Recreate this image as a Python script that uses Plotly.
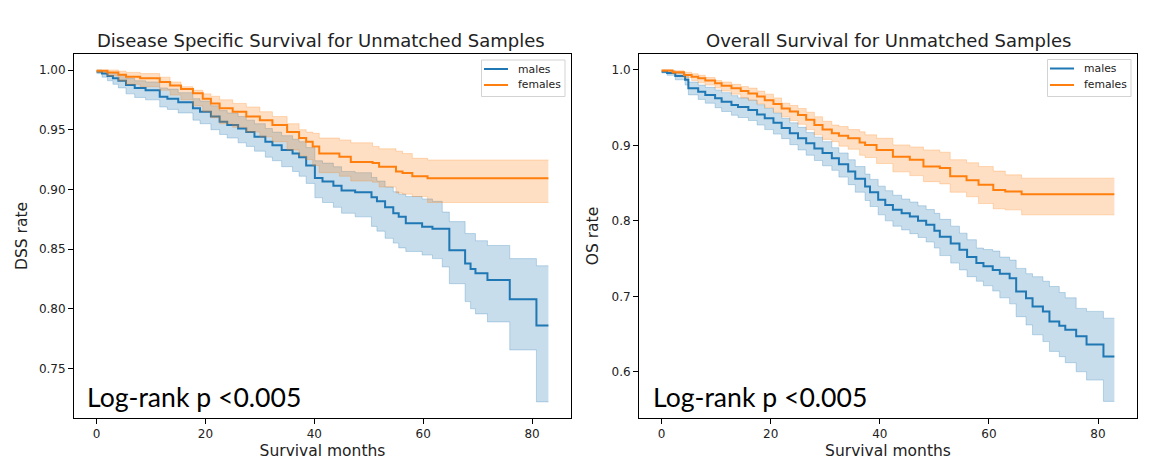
import plotly.graph_objects as go

# ---------------- Disease specific survival (left panel) ----------------
dss_m_t = [0, 1, 2, 3, 4, 5.4, 7, 9, 11.6, 13, 15, 17.7, 19, 21, 22.6, 24, 26, 27.5, 29, 31,
           32.3, 34, 36, 37.2, 38.5, 40.1, 41.5, 43.5, 45, 47.5, 50.5, 51.5, 53, 54.5, 55.5,
           56.8, 59.8, 61.7, 63.5, 64.8, 67.7, 68.7, 69.6, 71.8, 75.9, 80.8, 83]
dss_m_s = [0.9986, 0.997, 0.995, 0.993, 0.991, 0.9874, 0.985, 0.983, 0.9776, 0.976, 0.973, 0.968,
           0.965, 0.961, 0.9567, 0.954, 0.951, 0.948, 0.944, 0.940, 0.937, 0.933, 0.930, 0.927,
           0.920, 0.9095, 0.9065, 0.903, 0.899, 0.8975, 0.8935, 0.890, 0.885, 0.880, 0.877, 0.8716,
           0.8688, 0.867, 0.867, 0.849, 0.838, 0.8334, 0.8297, 0.8241, 0.808, 0.786, 0.786]
dss_m_lo = [0.997, 0.994, 0.991, 0.988, 0.985, 0.980, 0.977, 0.975, 0.969, 0.967, 0.964, 0.958,
            0.955, 0.950, 0.946, 0.943, 0.939, 0.936, 0.932, 0.927, 0.924, 0.919, 0.915, 0.911,
            0.905, 0.893, 0.889, 0.885, 0.880, 0.877, 0.869, 0.865, 0.859, 0.855, 0.851, 0.848,
            0.845, 0.842, 0.835, 0.821, 0.806, 0.800, 0.7957, 0.789, 0.7655, 0.722, 0.722]
dss_m_hi = [1.000, 0.999, 0.998, 0.997, 0.996, 0.993, 0.991, 0.990, 0.985, 0.984, 0.981, 0.976,
            0.974, 0.970, 0.966, 0.964, 0.961, 0.958, 0.955, 0.951, 0.948, 0.945, 0.942, 0.940,
            0.935, 0.924, 0.922, 0.919, 0.915, 0.914, 0.910, 0.907, 0.902, 0.898, 0.896, 0.894,
            0.892, 0.890, 0.881, 0.873, 0.863, 0.863, 0.857, 0.853, 0.842, 0.836, 0.836]

dss_f_t = [0, 2, 4, 5.4, 8, 11.6, 13.5, 15.5, 17.7, 19.5, 21, 22.6, 25, 27.5, 30, 32.3, 35, 37.2,
           38.5, 39.7, 40.9, 44.6, 46.7, 50.7, 51.9, 55, 56.2, 58, 60.8, 83]
dss_f_s = [0.9994, 0.998, 0.996, 0.9944, 0.993, 0.990, 0.987, 0.984, 0.9805, 0.976, 0.972, 0.968,
           0.965, 0.961, 0.958, 0.954, 0.948, 0.943, 0.940, 0.936, 0.930, 0.9274, 0.923, 0.922,
           0.919, 0.915, 0.9137, 0.911, 0.9093, 0.9093]
dss_f_lo = [0.998, 0.995, 0.991, 0.988, 0.986, 0.983, 0.979, 0.975, 0.970, 0.965, 0.960, 0.955,
            0.952, 0.948, 0.944, 0.940, 0.933, 0.928, 0.925, 0.920, 0.914, 0.911, 0.907, 0.906,
            0.902, 0.897, 0.896, 0.894, 0.889, 0.889]
dss_f_hi = [1.000, 1.000, 0.999, 0.998, 0.997, 0.994, 0.990, 0.986, 0.983, 0.980, 0.978, 0.975,
            0.972, 0.969, 0.965, 0.961, 0.955, 0.950, 0.948, 0.947, 0.943, 0.9414, 0.939, 0.936,
            0.934, 0.932, 0.930, 0.926, 0.9246, 0.9246]

# ---------------- Overall survival (right panel) ----------------
os_m_t = [0, 1, 2.5, 4.3, 4.9, 6.7, 8, 9.8, 11, 12.8, 14, 15.9, 17.5, 18.9, 20.5, 22, 23.5, 25,
          26.5, 28, 29.5, 31.2, 32.5, 34.2, 35.5, 37.3, 38.2, 39.7, 41, 42.4, 44, 45.5, 47, 48.5,
          50, 51, 53, 54.6, 56, 57.7, 59, 60.7, 62, 63.8, 65, 66.8, 68, 69.9, 71.1, 72.9, 74, 76,
          77.9, 81, 83]
os_m_s = [0.9978, 0.996, 0.992, 0.987, 0.9757, 0.971, 0.967, 0.9625, 0.958, 0.9536, 0.951, 0.947,
          0.941, 0.936, 0.930, 0.923, 0.916, 0.9095, 0.903, 0.896, 0.890, 0.883, 0.875, 0.8653,
          0.856, 0.8455, 0.838, 0.828, 0.821, 0.8146, 0.810, 0.8057, 0.800, 0.7947, 0.787, 0.779,
          0.770, 0.7616, 0.752, 0.744, 0.740, 0.735, 0.730, 0.724, 0.7064, 0.6976, 0.6865, 0.680,
          0.6666, 0.661, 0.6556, 0.647, 0.636, 0.6203, 0.6203]
os_m_lo = [0.996, 0.993, 0.987, 0.980, 0.967, 0.961, 0.956, 0.950, 0.945, 0.940, 0.937, 0.933,
           0.927, 0.921, 0.915, 0.909, 0.901, 0.894, 0.887, 0.880, 0.873, 0.867, 0.858, 0.848,
           0.838, 0.827, 0.819, 0.808, 0.800, 0.793, 0.788, 0.783, 0.778, 0.772, 0.764, 0.754,
           0.744, 0.735, 0.726, 0.720, 0.714, 0.707, 0.698, 0.690, 0.673, 0.662, 0.649, 0.640,
           0.627, 0.620, 0.612, 0.600, 0.589, 0.5607, 0.5607]
os_m_hi = [0.9995, 0.999, 0.996, 0.993, 0.984, 0.980, 0.977, 0.9735, 0.970, 0.966, 0.963, 0.960,
           0.954, 0.949, 0.943, 0.936, 0.930, 0.924, 0.917, 0.911, 0.905, 0.897, 0.890, 0.881,
           0.872, 0.862, 0.855, 0.846, 0.840, 0.834, 0.829, 0.825, 0.820, 0.815, 0.810, 0.802,
           0.793, 0.7837, 0.775, 0.764, 0.762, 0.760, 0.752, 0.748, 0.737, 0.730, 0.726, 0.720,
           0.713, 0.705, 0.698, 0.684, 0.680, 0.671, 0.671]

os_f_t = [0, 2, 4.1, 5.5, 6.7, 8, 9.8, 11, 12.8, 14.5, 15.9, 17.5, 18.9, 20.5, 22, 23.5, 25, 26.5,
          28, 29.5, 31.2, 32.5, 34.2, 36.3, 37.3, 39.4, 42.4, 45.5, 48, 51, 52.9, 55.9, 58.1, 60.8,
          63, 66, 83]
os_f_s = [0.9993, 0.997, 0.9934, 0.991, 0.989, 0.986, 0.9823, 0.979, 0.9757, 0.972, 0.969, 0.965,
          0.960, 0.955, 0.949, 0.945, 0.9404, 0.934, 0.927, 0.921, 0.916, 0.913, 0.9095, 0.904,
          0.9007, 0.894, 0.885, 0.881, 0.872, 0.870, 0.859, 0.854, 0.848, 0.841, 0.839, 0.8353,
          0.8353]
os_f_lo = [0.998, 0.995, 0.990, 0.986, 0.983, 0.980, 0.976, 0.972, 0.968, 0.963, 0.960, 0.955,
           0.950, 0.944, 0.938, 0.933, 0.928, 0.921, 0.914, 0.908, 0.905, 0.899, 0.895, 0.887,
           0.884, 0.876, 0.865, 0.860, 0.852, 0.849, 0.838, 0.832, 0.823, 0.816, 0.8146, 0.808,
           0.808]
os_f_hi = [1.000, 0.999, 0.997, 0.995, 0.993, 0.990, 0.986, 0.984, 0.981, 0.978, 0.976, 0.972,
           0.968, 0.963, 0.956, 0.953, 0.949, 0.944, 0.938, 0.932, 0.927, 0.925, 0.921, 0.918,
           0.914, 0.9095, 0.9007, 0.898, 0.894, 0.891, 0.881, 0.877, 0.872, 0.866, 0.861, 0.8566,
           0.8566]

x_ticks = [0, 20, 40, 60, 80]
dss_ticks = [0.75, 0.80, 0.85, 0.90, 0.95, 1.00]
os_ticks = [0.6, 0.7, 0.8, 0.9, 1.0]
titles = ["Disease Specific Survival for Unmatched Samples", "Overall Survival for Unmatched Samples"]
y_titles = ["DSS rate", "OS rate"]
x_title = "Survival months"
series_names = ["males", "females"]
pvalue_text = "Log-rank p <0.005"

BLUE = "#1f77b4"
ORANGE = "#ff7f0e"
BLUE_FILL = "rgba(31,119,180,0.25)"
ORANGE_FILL = "rgba(255,127,14,0.25)"
TXT = "#222222"
FONT = "DejaVu Sans"

W, H = 1174, 472
fig = go.Figure()


def add_km(t, s, lo, hi, name, color, fill, xa, ya):
    fig.add_trace(go.Scatter(x=t, y=s, mode="lines", name=name, showlegend=False,
                             line=dict(color=color, width=2, shape="hv"),
                             xaxis=xa, yaxis=ya))
    fig.add_trace(go.Scatter(x=t, y=lo, mode="lines", showlegend=False, hoverinfo="skip",
                             name=name + " lower CI",
                             line=dict(color=fill, width=1, shape="hv"),
                             xaxis=xa, yaxis=ya))
    fig.add_trace(go.Scatter(x=t, y=hi, mode="lines", showlegend=False, hoverinfo="skip",
                             name=name + " upper CI",
                             line=dict(color=fill, width=1, shape="hv"),
                             fill="tonexty", fillcolor=fill,
                             xaxis=xa, yaxis=ya))


add_km(dss_m_t, dss_m_s, dss_m_lo, dss_m_hi, series_names[0], BLUE, BLUE_FILL, "x", "y")
add_km(dss_f_t, dss_f_s, dss_f_lo, dss_f_hi, series_names[1], ORANGE, ORANGE_FILL, "x", "y")
add_km(os_m_t, os_m_s, os_m_lo, os_m_hi, series_names[0], BLUE, BLUE_FILL, "x2", "y2")
add_km(os_f_t, os_f_s, os_f_lo, os_f_hi, series_names[1], ORANGE, ORANGE_FILL, "x2", "y2")

left_dom = [74 / W, 571 / W]
right_dom = [639 / W, 1137 / W]
y_dom = [(H - 418) / H, (H - 54) / H]

axis_common = dict(showline=True, mirror=True, linecolor="black", linewidth=1,
                   ticks="outside", ticklen=5, tickwidth=1, tickcolor="black",
                   showgrid=False, zeroline=False, automargin=False,
                   tickfont=dict(family=FONT, size=12, color=TXT))

xt = dict(text=x_title, font=dict(family=FONT, size=15.5, color=TXT), standoff=4)

fig.update_layout(
    width=W, height=H,
    margin=dict(l=0, r=0, t=0, b=0),
    paper_bgcolor="white", plot_bgcolor="white",
    font=dict(family=FONT, color=TXT),
    showlegend=False,
    xaxis=dict(domain=left_dom, anchor="y", range=[-4.15, 87.15], tickvals=x_ticks,
               title=xt, **axis_common),
    yaxis=dict(domain=y_dom, anchor="x", range=[0.7085, 1.0134], tickvals=dss_ticks,
               tickformat=".2f",
               title=dict(text=y_titles[0], font=dict(family=FONT, size=15.5, color=TXT), standoff=7),
               **axis_common),
    xaxis2=dict(domain=right_dom, anchor="y2", range=[-4.15, 87.15], tickvals=x_ticks,
                title=xt, **axis_common),
    yaxis2=dict(domain=y_dom, anchor="x2", range=[0.5387, 1.0212], tickvals=os_ticks,
                tickformat=".1f",
                title=dict(text=y_titles[1], font=dict(family=FONT, size=15.5, color=TXT), standoff=9),
                **axis_common),
)


def px(x):
    return x / W


def py(y):
    return (H - y) / H


annotations = [
    dict(text=titles[0], x=px(321), y=py(41), xanchor="center", yanchor="middle",
         font=dict(family=FONT, size=18, color=TXT)),
    dict(text=titles[1], x=px(888), y=py(41), xanchor="center", yanchor="middle",
         font=dict(family=FONT, size=18, color=TXT)),
    dict(text=pvalue_text, x=px(85), y=py(397), xanchor="left", yanchor="middle",
         font=dict(family="Lato", size=26.6, color="black")),
    dict(text=pvalue_text, x=px(651), y=py(397), xanchor="left", yanchor="middle",
         font=dict(family="Lato", size=26.6, color="black")),
]

shapes = []
# legend boxes (one per panel)
legend_specs = [
    dict(box=(481.5, 60, 565, 96.5), line_x=(484, 508), text_x=516, rows=(69, 85)),
    dict(box=(1047.5, 59.5, 1131, 96.5), line_x=(1050, 1074), text_x=1082, rows=(68.5, 85)),
]
for spec in legend_specs:
    x0, y0, x1, y1 = spec["box"]
    shapes.append(dict(type="rect", xref="paper", yref="paper",
                       x0=px(x0), x1=px(x1), y0=py(y1), y1=py(y0),
                       line=dict(color="#d3d3d3", width=1), fillcolor="rgba(255,255,255,0.8)",
                       layer="above"))
    for name, color, ry in zip(series_names, [BLUE, ORANGE], spec["rows"]):
        shapes.append(dict(type="line", xref="paper", yref="paper",
                           x0=px(spec["line_x"][0]), x1=px(spec["line_x"][1]),
                           y0=py(ry), y1=py(ry), line=dict(color=color, width=2),
                           layer="above"))
        annotations.append(dict(text=name, x=px(spec["text_x"]), y=py(ry),
                                xanchor="left", yanchor="middle",
                                font=dict(family=FONT, size=10.8, color=TXT)))

for a in annotations:
    a.update(xref="paper", yref="paper", showarrow=False)

fig.update_layout(annotations=annotations, shapes=shapes)

fig.write_html("out.html", config={"displayModeBar": False},
               post_script="document.body.style.margin='0';document.body.style.padding='0';")
